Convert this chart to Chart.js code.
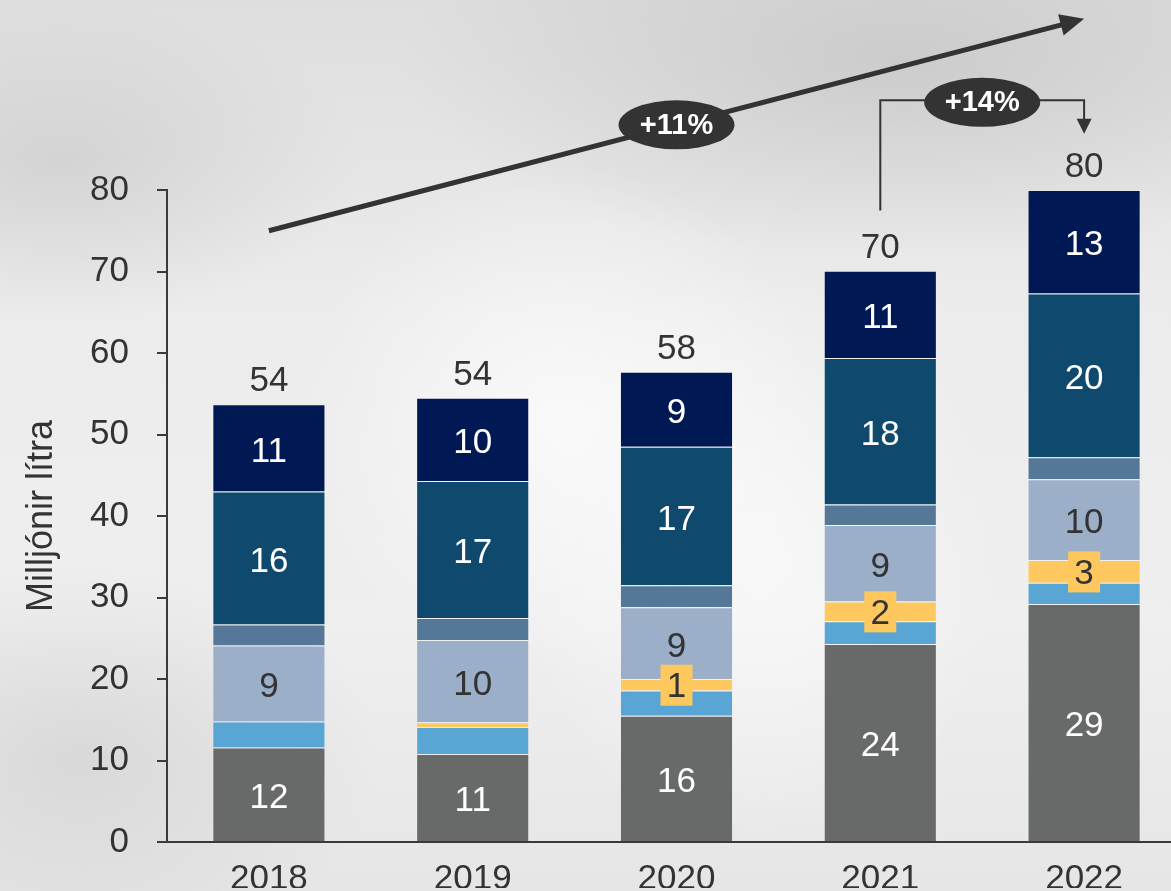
<!DOCTYPE html>
<html lang="is">
<head>
    <meta charset="UTF-8">
    <title>Milljónir lítra</title>
    <script src="https://cdn.jsdelivr.net/npm/chart.js"></script>
    <style>
        html, body { margin: 0; padding: 0; overflow: hidden; }
        body {
            width: 1171px; height: 891px;
            background:
                radial-gradient(ellipse 300px 160px at 60px 160px, rgba(200,200,200,0.6), transparent),
                radial-gradient(ellipse 500px 200px at 900px 60px, rgba(195,195,195,0.7), transparent),
                radial-gradient(ellipse 260px 260px at 560px 420px, rgba(255,255,255,0.7), transparent),
                radial-gradient(ellipse 300px 200px at 80px 760px, rgba(205,205,205,0.6), transparent),
                radial-gradient(ellipse 240px 300px at 760px 560px, rgba(255,255,255,0.6), transparent),
                linear-gradient(180deg, #dedede 0%, #ececec 35%, #efefef 70%, #e6e6e6 100%);
        }
        #wrap { width: 1186px; height: 891px; }
    </style>
</head>
<body>
    <div id="wrap"><canvas id="chart" width="1186" height="891"></canvas></div>

    <script>
        const years = ['2018', '2019', '2020', '2021', '2022'];
        const grey = [11.6, 10.8, 15.5, 24.3, 29.2];
        const lightBlue = [3.2, 3.3, 3.1, 2.8, 2.6];
        const yellow = [0, 0.6, 1.4, 2.4, 2.8];
        const periwinkle = [9.3, 10.1, 8.8, 9.4, 9.9];
        const steel = [2.6, 2.7, 2.7, 2.5, 2.7];
        const teal = [16.3, 16.8, 17.0, 18.0, 20.1];
        const navy = [10.7, 10.2, 9.2, 10.7, 12.7];
        const totals = [54, 54, 58, 70, 80];
        const yellowLabels = [null, null, 1, 2, 3];
        const growth = ['+11%', '+14%'];

        const FONT = '"Liberation Sans", Arial, sans-serif';
        const DARK = '#333333';

        // label colour per dataset (null = no label)
        const labelColors = ['#ffffff', null, 'box', DARK, null, '#ffffff', '#ffffff'];

        const segmentLabels = {
            id: 'segmentLabels',
            afterDatasetsDraw(chart) {
                const ctx = chart.ctx;
                ctx.save();
                ctx.font = '35px ' + FONT;
                ctx.textAlign = 'center';
                ctx.textBaseline = 'middle';
                chart.data.datasets.forEach((ds, i) => {
                    const mode = labelColors[i];
                    if (!mode) return;
                    chart.getDatasetMeta(i).data.forEach((bar, j) => {
                        const cy = (bar.y + bar.base) / 2;
                        if (mode === 'box') {
                            const v = yellowLabels[j];
                            if (v === null) return;
                            ctx.fillStyle = '#fec85f';
                            ctx.fillRect(bar.x - 16, cy - 20, 32, 41);
                            ctx.fillStyle = DARK;
                            ctx.fillText(String(v), bar.x, cy + 3);
                        } else {
                            ctx.fillStyle = mode;
                            ctx.fillText(String(Math.round(ds.data[j])), bar.x, cy + 4);
                        }
                    });
                });
                // totals above the stacks
                const top = chart.getDatasetMeta(chart.data.datasets.length - 1).data;
                ctx.fillStyle = DARK;
                ctx.textBaseline = 'alphabetic';
                top.forEach((bar, j) => ctx.fillText(String(totals[j]), bar.x, bar.y - 13));
                ctx.restore();
            }
        };

        function arrowHead(ctx, x1, y1, x2, y2, len, half) {
            const a = Math.atan2(y2 - y1, x2 - x1);
            ctx.beginPath();
            ctx.moveTo(x2, y2);
            ctx.lineTo(x2 - len * Math.cos(a) + half * Math.sin(a), y2 - len * Math.sin(a) - half * Math.cos(a));
            ctx.lineTo(x2 - len * Math.cos(a) - half * Math.sin(a), y2 - len * Math.sin(a) + half * Math.cos(a));
            ctx.closePath();
            ctx.fill();
        }

        function badge(ctx, cx, cy, text) {
            ctx.fillStyle = DARK;
            ctx.beginPath();
            ctx.ellipse(cx, cy, 58, 24.5, 0, 0, Math.PI * 2);
            ctx.fill();
            ctx.fillStyle = '#ffffff';
            ctx.font = 'bold 29px ' + FONT;
            ctx.textAlign = 'center';
            ctx.textBaseline = 'middle';
            ctx.fillText(text, cx, cy + 1);
        }

        const growthArrows = {
            id: 'growthArrows',
            afterDraw(chart) {
                const { ctx, scales: { x, y } } = chart;
                ctx.save();
                ctx.strokeStyle = DARK;
                ctx.fillStyle = DARK;

                // long CAGR arrow
                const x1 = x.getPixelForValue(0), y1 = y.getPixelForValue(75);
                const x2 = x.getPixelForValue(4), y2 = y.getPixelForValue(101);
                ctx.lineWidth = 5;
                ctx.beginPath();
                ctx.moveTo(x1, y1);
                ctx.lineTo(x2 - 14, y2 + 3.7);
                ctx.stroke();
                arrowHead(ctx, x1, y1, x2, y2, 24, 11);
                badge(ctx, (x1 + x2) / 2, (y1 + y2) / 2, growth[0]);

                // bracket 2021 -> 2022
                const bx1 = x.getPixelForValue(3), bx2 = x.getPixelForValue(4);
                const by = y.getPixelForValue(91);
                ctx.strokeStyle = DARK;
                ctx.fillStyle = DARK;
                ctx.lineWidth = 2;
                ctx.beginPath();
                ctx.moveTo(bx1, y.getPixelForValue(77.5));
                ctx.lineTo(bx1, by);
                ctx.lineTo(bx2, by);
                ctx.lineTo(bx2, y.getPixelForValue(88));
                ctx.stroke();
                arrowHead(ctx, bx2, by, bx2, y.getPixelForValue(86.9), 15, 7.5);
                badge(ctx, (bx1 + bx2) / 2, by + 2, growth[1]);
                ctx.restore();
            }
        };

        const ds = (data, color) => ({
            data: data,
            backgroundColor: color,
            borderColor: 'rgba(255,255,255,0.14)',
            borderWidth: 1,
            barPercentage: 0.555,
            categoryPercentage: 1
        });

        new Chart(document.getElementById('chart'), {
            type: 'bar',
            data: {
                labels: years,
                datasets: [
                    ds(grey, '#686a69'),
                    ds(lightBlue, '#59a5d3'),
                    ds(yellow, '#fec85f'),
                    ds(periwinkle, '#9cafc8'),
                    ds(steel, '#557899'),
                    ds(teal, '#0f4a6e'),
                    ds(navy, '#001853')
                ]
            },
            options: {
                responsive: false,
                animation: false,
                layout: { padding: { top: 190, left: 0, right: 0, bottom: 0 } },
                plugins: { legend: { display: false }, tooltip: { enabled: false } },
                scales: {
                    x: {
                        stacked: true,
                        grid: { display: false },
                        border: { display: true, color: '#3a3a3a', width: 2 },
                        ticks: { color: DARK, font: { family: FONT, size: 35 }, padding: 8 },
                        afterFit(scale) { scale.height = 46; }
                    },
                    y: {
                        stacked: true,
                        min: 0,
                        max: 80,
                        ticks: { stepSize: 10, color: DARK, font: { family: FONT, size: 35 }, padding: 28 },
                        grid: { drawOnChartArea: false, drawTicks: true, tickLength: 10, color: '#3a3a3a', lineWidth: 2 },
                        border: { display: true, color: '#3a3a3a', width: 2 },
                        title: {
                            display: true,
                            text: 'Milljónir lítra',
                            color: DARK,
                            font: { family: FONT, size: 36 },
                            lineHeight: 1,
                            padding: { top: 20, bottom: 0 }
                        },
                        afterFit(scale) { scale.width = 167; }
                    }
                }
            },
            plugins: [segmentLabels, growthArrows]
        });
    </script>
</body>
</html>
